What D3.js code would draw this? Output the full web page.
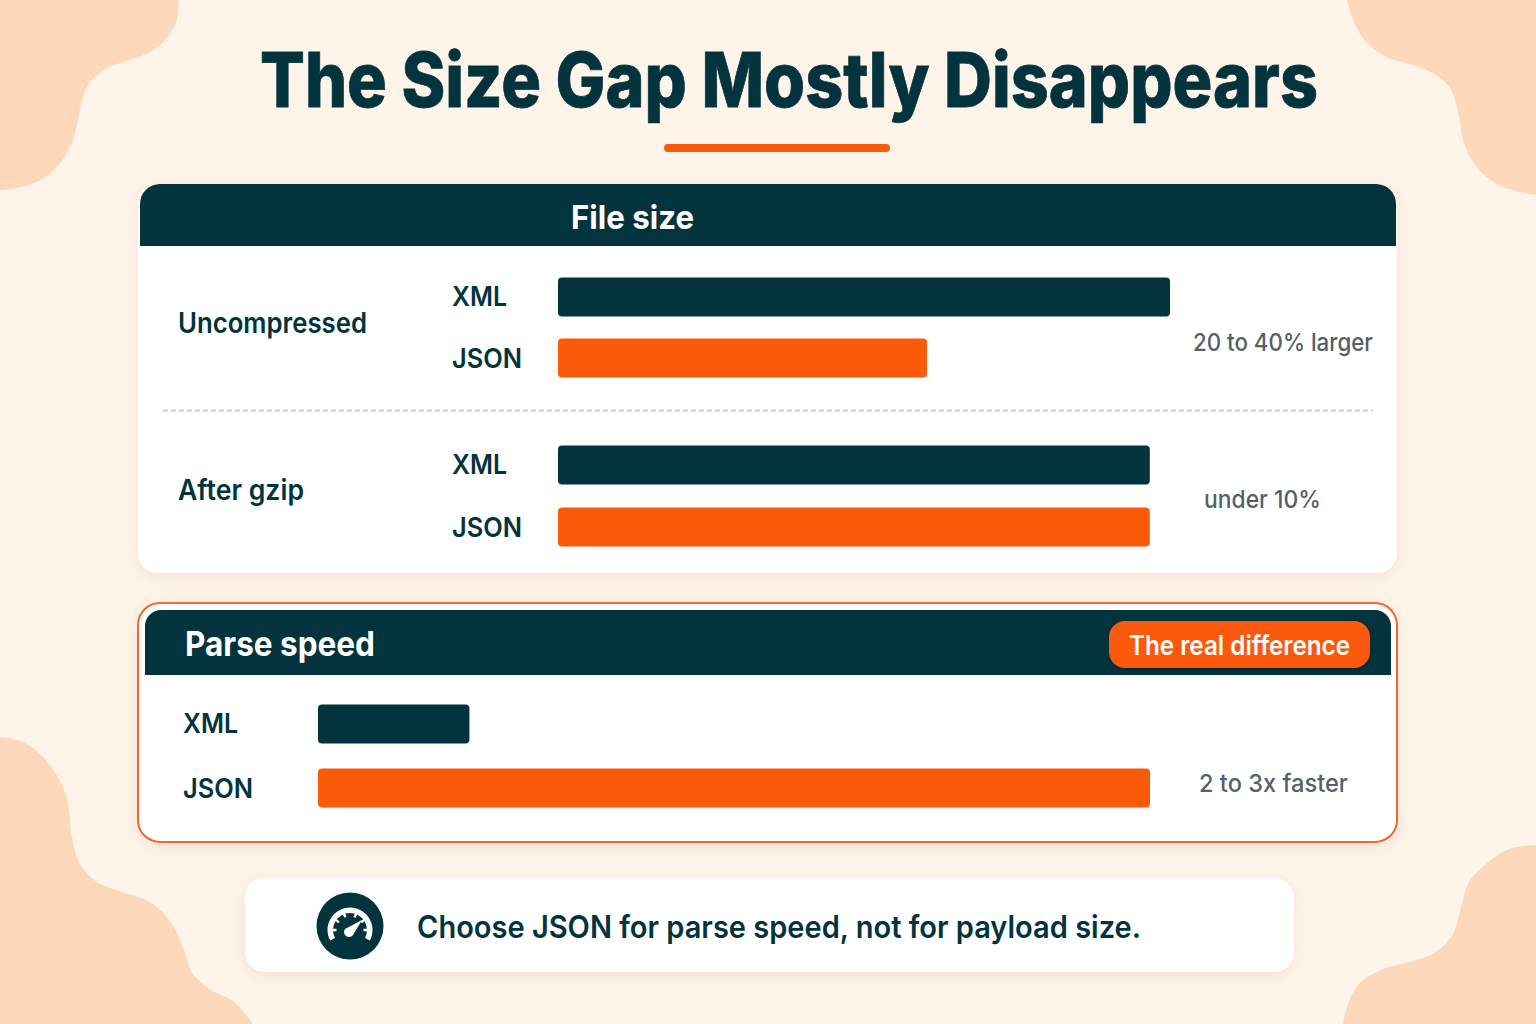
<!DOCTYPE html>
<html>
<head>
<meta charset="utf-8">
<script src="https://cdn.jsdelivr.net/npm/d3@7/dist/d3.min.js"></script>
<style>
  html, body { margin: 0; padding: 0; background: #fff4ea; }
  svg { display: block; }
  text { font-family: Inter, "Noto Sans", sans-serif; }
</style>
</head>
<body>
<svg id="chart" width="1536" height="1024"></svg>
<script>
// values, relative length of each bar (longest = 100)
var series = ["XML", "JSON"];
var uncompressedValues = [100, 60.3];
var gzipValues = [96.7, 96.7];
var parseValues = [18.2, 100];
var notes = ["20 to 40% larger", "under 10%", "2 to 3x faster"];

var navy = "#03343e", orange = "#fb5a0a", grey = "#565f68";
var svg = d3.select("#chart");

var defs = svg.append("defs");
var shadow = defs.append("filter").attr("id", "soft")
  .attr("x", "-5%").attr("y", "-10%").attr("width", "110%").attr("height", "125%");
shadow.append("feDropShadow").attr("dx", 0).attr("dy", 4).attr("stdDeviation", 8)
  .attr("flood-color", "#b08a6a").attr("flood-opacity", 0.18);
var glow = defs.append("filter").attr("id", "glow")
  .attr("x", "-10%").attr("y", "-30%").attr("width", "120%").attr("height", "160%");
glow.append("feDropShadow").attr("dx", 0).attr("dy", 1).attr("stdDeviation", 3)
  .attr("flood-color", "#000").attr("flood-opacity", 0.3);

// corner blobs, traced edge then the corner of the page
var blob = d3.line().curve(d3.curveCatmullRom.alpha(0.5));
var blobs = [
  { corner: [-5, -5], edge: [[180,-10],[179,0],[177,20],[167,38],[150,52],[127,61],[107,68],[90,82],[82,100],[78,120],[72,143],[57,167],[37,182],[17,188],[0,190],[-5,190]] },
  { corner: [1541, -5], edge: [[1345,-10],[1347,0],[1353,20],[1366,42],[1386,57],[1413,65],[1436,75],[1451,90],[1459,117],[1464,143],[1479,170],[1503,187],[1536,195],[1541,196]] },
  { corner: [-5, 1029], edge: [[-5,737],[0,737],[23,742],[43,757],[60,781],[68,804],[72,837],[80,864],[97,882],[123,892],[150,902],[170,921],[183,947],[193,974],[213,991],[233,1001],[253,1024],[257,1030]] },
  { corner: [1541, 1029], edge: [[1541,845],[1536,845],[1509,849],[1486,864],[1469,882],[1461,907],[1453,934],[1436,952],[1409,962],[1383,969],[1359,984],[1348,1004],[1343,1024],[1342,1030]] }
];
svg.selectAll("path.blob").data(blobs).enter().append("path")
  .attr("class", "blob")
  .attr("d", function (b) { return blob(b.edge) + "L" + b.corner + "Z"; })
  .attr("fill", "#fdd8bb");

// text squeezed to the width it has in the picture, the font is wider than the original
function label(x, y, str, size, weight, color, width) {
  return svg.append("text").attr("x", x).attr("y", y)
    .attr("font-size", size).attr("font-weight", weight).attr("fill", color)
    .attr("textLength", width).attr("lengthAdjust", "spacingAndGlyphs").text(str);
}

// title
label(260, 107, "The Size Gap Mostly Disappears", 76, 800, navy, 1058)
  .attr("stroke", navy).attr("stroke-width", 0.8);
svg.append("rect").attr("x", 664).attr("y", 144).attr("width", 226).attr("height", 8)
  .attr("rx", 4).attr("fill", orange);

// rectangle with only the top corners rounded
function topRounded(x, y, w, h, r) {
  var p = d3.path();
  p.moveTo(x, y + h);
  p.lineTo(x, y + r);
  p.arcTo(x, y, x + r, y, r);
  p.lineTo(x + w - r, y);
  p.arcTo(x + w, y, x + w, y + r, r);
  p.lineTo(x + w, y + h);
  p.closePath();
  return p.toString();
}

// file size card
svg.append("rect").attr("x", 138).attr("y", 184).attr("width", 1259).attr("height", 389)
  .attr("rx", 20).attr("fill", "#fff").attr("filter", "url(#soft)");
svg.append("path").attr("d", topRounded(140, 184, 1256, 62, 20)).attr("fill", navy);
label(571, 229, "File size", 33, 700, "#fff", 123);

var xSize = d3.scaleLinear().domain([0, 100]).range([558, 1170]);
var xParse = d3.scaleLinear().domain([0, 100]).range([318, 1150]);
var labelWidths = { XML: 55, JSON: 70 };

function drawBars(values, x, yTop, yBottom, labelX) {
  var y = d3.scalePoint().domain(series).range([yTop, yBottom]);
  var g = svg.append("g");
  g.selectAll("rect").data(values).enter().append("rect")
    .attr("x", x(0))
    .attr("y", function (d, i) { return y(series[i]) - 19.5; })
    .attr("width", function (d) { return x(d) - x(0); })
    .attr("height", 39)
    .attr("rx", 4)
    .attr("fill", function (d, i) { return i == 0 ? navy : orange; });
  g.selectAll("text").data(series).enter().append("text")
    .attr("x", labelX)
    .attr("y", function (d) { return y(d) + (d == "XML" ? 8.5 : 9.5); })
    .attr("font-size", 27).attr("font-weight", 600).attr("fill", navy)
    .attr("textLength", function (d) { return labelWidths[d]; })
    .attr("lengthAdjust", "spacingAndGlyphs")
    .text(function (d) { return d; });
}

label(178, 333, "Uncompressed", 28, 600, navy, 189);
drawBars(uncompressedValues, xSize, 297, 358, 452);
label(1193, 351, notes[0], 24.5, 500, grey, 180);

svg.append("line").attr("x1", 163).attr("x2", 1373).attr("y1", 410.5).attr("y2", 410.5)
  .attr("stroke", "#cfd2d2").attr("stroke-width", 2).attr("stroke-dasharray", "5 3");

label(178, 500, "After gzip", 28, 600, navy, 126);
drawBars(gzipValues, xSize, 465, 527, 452);
label(1204, 508, notes[1], 24.5, 500, grey, 117);

// parse speed card
svg.append("rect").attr("x", 138).attr("y", 603).attr("width", 1259).attr("height", 239)
  .attr("rx", 22).attr("fill", "#fff").attr("stroke", "#ee6a2a").attr("stroke-width", 2)
  .attr("filter", "url(#soft)");
svg.append("path").attr("d", topRounded(145, 610, 1246, 65, 16)).attr("fill", navy);
label(185, 656, "Parse speed", 34, 700, "#fff", 190);
svg.append("rect").attr("x", 1109).attr("y", 621).attr("width", 261).attr("height", 47)
  .attr("rx", 16).attr("fill", orange).attr("filter", "url(#glow)");
label(1129, 655, "The real difference", 26.5, 600, "#fff", 221);

drawBars(parseValues, xParse, 724, 788, 183);
label(1199, 792, notes[2], 24.5, 500, grey, 149);

// takeaway
svg.append("rect").attr("x", 245).attr("y", 878).attr("width", 1049).attr("height", 94)
  .attr("rx", 20).attr("fill", "#fff").attr("filter", "url(#soft)");
svg.append("circle").attr("cx", 350).attr("cy", 926).attr("r", 33.5).attr("fill", navy);

// gauge icon
var gauge = svg.append("g").attr("transform", "translate(350,930)");
var rad = Math.PI / 180;
gauge.append("path").attr("fill", "#fff")
  .attr("d", d3.arc().innerRadius(17).outerRadius(22.5).startAngle(-118 * rad).endAngle(118 * rad)());
gauge.selectAll("line").data([-90, -55, -20, 20, 55, 90]).enter().append("line")
  .attr("x1", function (d) { return 17.5 * Math.sin(d * rad); })
  .attr("y1", function (d) { return -17.5 * Math.cos(d * rad); })
  .attr("x2", function (d) { return 13.5 * Math.sin(d * rad); })
  .attr("y2", function (d) { return -13.5 * Math.cos(d * rad); })
  .attr("stroke", "#fff").attr("stroke-width", 2.5);
gauge.append("path").attr("fill", "#fff").attr("d", "M-5,-1 L12,-10 L3,5 A5,5 0 0 1 -5,-1 Z");

label(417, 938, "Choose JSON for parse speed, not for payload size.", 31, 600, navy, 724);
</script>
</body>
</html>
